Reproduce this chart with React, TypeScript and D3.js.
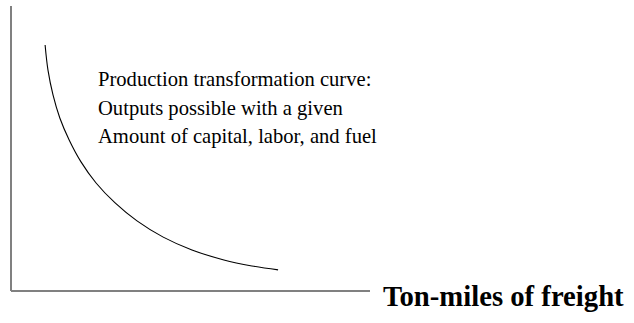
import React from "react";
import * as d3 from "d3";

const W = 634;
const H = 323;

// Frontier points: ton-miles of freight (x) vs. the other output (y), in percent of axis length
const freight = [9.5, 10.3, 11.7, 13.6, 16.2, 19.5, 23.7, 29.0, 35.1, 42.4, 50.4, 59.3, 67.1, 74.4];
const otherOutput = [86.3, 77.5, 68.8, 60.7, 53.0, 45.3, 37.9, 30.9, 24.6, 18.9, 14.4, 10.9, 8.8, 7.4];

const noteLines = [
  "Production transformation curve:",
  "Outputs possible with a given",
  "Amount of capital, labor, and fuel",
];
const xAxisLabel = "Ton-miles of freight";

export default function App() {
  const x = d3.scaleLinear().domain([0, 100]).range([11, 370]);
  const y = d3.scaleLinear().domain([0, 100]).range([291, 6]);

  const pts: [number, number][] = freight.map((f, i) => [f, otherOutput[i]]);
  const line = d3
    .line<[number, number]>()
    .x((d) => x(d[0]))
    .y((d) => y(d[1]))
    .curve(d3.curveCatmullRom.alpha(0.5));

  return (
    <svg
      width={W}
      height={H}
      style={{ position: "absolute", left: 0, top: 0, background: "#fff" }}
    >
      {/* axes */}
      <line x1={x(0)} y1={y(100)} x2={x(0)} y2={y(0)} stroke="#808080" strokeWidth={2} />
      <line x1={x(0)} y1={y(0)} x2={x(100)} y2={y(0)} stroke="#808080" strokeWidth={2} />

      {/* frontier */}
      <path d={line(pts) ?? ""} fill="none" stroke="#000" strokeWidth={1.1} />

      {/* annotation */}
      <text fontFamily="'Liberation Serif', 'Times New Roman', serif" fontSize={20.6} fill="#000">
        {noteLines.map((t, i) => (
          <tspan key={i} x={98} y={86 + i * 28.5}>
            {t}
          </tspan>
        ))}
      </text>

      <text
        x={383}
        y={306}
        fontFamily="'Liberation Serif', 'Times New Roman', serif"
        fontWeight="bold"
        fontSize={28.7}
        fill="#000"
      >
        {xAxisLabel}
      </text>
    </svg>
  );
}
